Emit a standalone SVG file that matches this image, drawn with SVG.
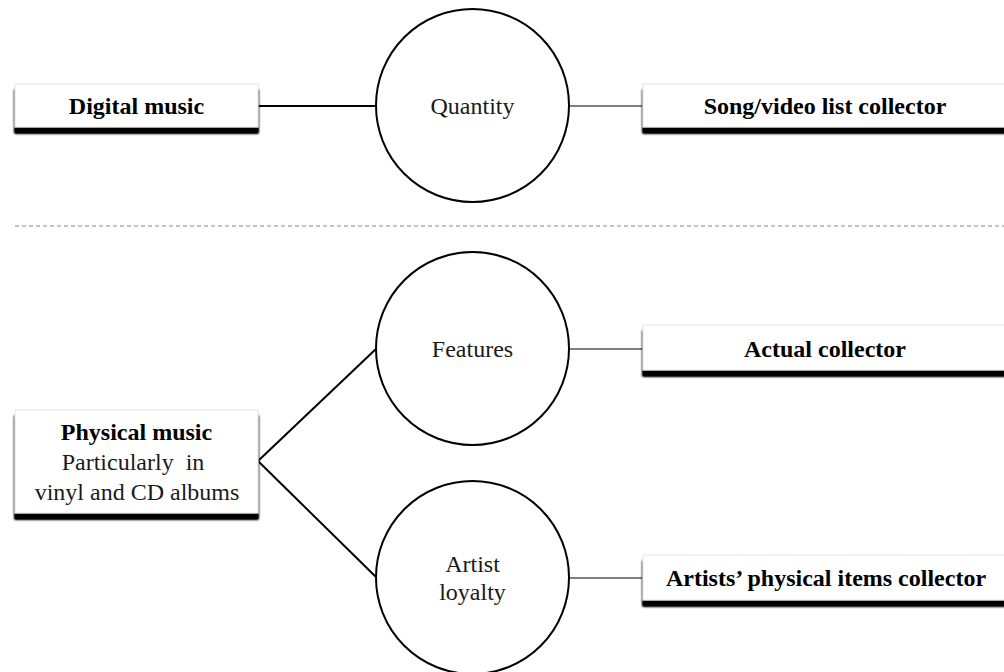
<svg xmlns="http://www.w3.org/2000/svg" width="1004" height="672" viewBox="0 0 1004 672">
<style>
.box{fill:#fff;stroke:#e4e4e4;stroke-width:1;filter:url(#sh)}
.circ{fill:#fff;stroke:#000;stroke-width:2}
.b{font-family:"Liberation Serif","Times New Roman",serif;font-weight:bold;font-size:24px;fill:#000;text-anchor:middle}
.r{font-family:"Liberation Serif","Times New Roman",serif;font-size:24px;fill:#1a1a1a;text-anchor:middle}
.thick{stroke:#000;stroke-width:2;fill:none}
.thin{stroke:#000;stroke-width:1.2;fill:none}
</style>
<defs>
<filter id="sh" x="-5%" y="-20%" width="110%" height="150%">
<feGaussianBlur in="SourceAlpha" stdDeviation="1.3" result="b"/>
<feOffset in="b" dx="0" dy="6" result="o"/>
<feComponentTransfer in="o" result="d"><feFuncA type="linear" slope="1.6"/></feComponentTransfer>
<feMerge><feMergeNode in="d"/><feMergeNode in="SourceGraphic"/></feMerge>
</filter>
</defs>
<rect width="1004" height="672" fill="#fff"/>
<line x1="15" y1="226" x2="1004" y2="226" stroke="#888" stroke-width="1.2" stroke-dasharray="4 3"/>
<g id="connectors">
<line class="thick" x1="258" y1="106" x2="376" y2="106"/>
<line class="thin" x1="569" y1="106" x2="643" y2="106"/>
<line class="thick" x1="258" y1="461" x2="377" y2="348"/>
<line class="thick" x1="258" y1="461" x2="377" y2="578"/>
<line class="thin" x1="569" y1="349" x2="643" y2="349" stroke="#555"/>
<line class="thin" x1="569" y1="578" x2="643" y2="578"/>
</g>
<g id="digital-music">
<rect class="box" x="15" y="84" width="243" height="43"/>
<text class="b" x="136.5" y="114">Digital music</text>
</g>
<g id="quantity">
<circle class="circ" cx="472.5" cy="105.5" r="96.5"/>
<text class="r" x="472.5" y="114">Quantity</text>
</g>
<g id="song-video">
<rect class="box" x="643" y="84" width="366" height="43"/>
<text class="b" x="825" y="113.5">Song/video list collector</text>
</g>
<g id="physical-music">
<rect class="box" x="15" y="410" width="243" height="103"/>
<text class="b" x="136.5" y="440">Physical music</text>
<text class="r" x="133" y="470" xml:space="preserve">Particularly  in</text>
<text class="r" x="137" y="500">vinyl and CD albums</text>
</g>
<g id="features">
<circle class="circ" cx="472.5" cy="348.5" r="96.5"/>
<text class="r" x="472.5" y="357">Features</text>
</g>
<g id="actual-collector">
<rect class="box" x="643" y="325" width="366" height="45"/>
<text class="b" x="825" y="357">Actual collector</text>
</g>
<g id="artist-loyalty">
<circle class="circ" cx="472.5" cy="577.5" r="96.5"/>
<text class="r" x="472.5" y="572">Artist</text>
<text class="r" x="472.5" y="600">loyalty</text>
</g>
<g id="artists-items">
<rect class="box" x="643" y="555" width="366" height="45"/>
<text class="b" x="826" y="586">Artists’ physical items collector</text>
</g>
</svg>
